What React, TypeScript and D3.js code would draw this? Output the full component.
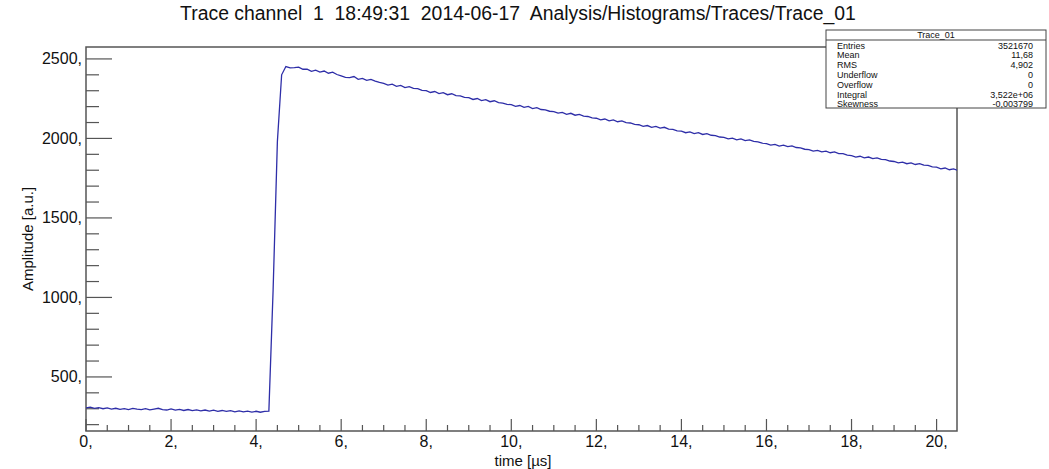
import React from "react";
import * as d3 from "d3";

// ---------- data ----------
const TITLE = "Trace channel  1  18:49:31  2014-06-17  Analysis/Histograms/Traces/Trace_01";
const X_LABEL = "time [\u00b5s]";
const Y_LABEL = "Amplitude [a.u.]";

const X_DOMAIN: [number, number] = [0, 20.48];
const Y_DOMAIN: [number, number] = [160, 2575];

const X_MAJOR = [0, 2, 4, 6, 8, 10, 12, 14, 16, 18, 20];
const X_TICK_LABELS = ["0,", "2,", "4,", "6,", "8,", "10,", "12,", "14,", "16,", "18,", "20,"];
const Y_MAJOR = [500, 1000, 1500, 2000, 2500];
const Y_TICK_LABELS = ["500,", "1000,", "1500,", "2000,", "2500,"];

const SAMPLE_STEP = 0.1; // µs between samples
// amplitude samples, t = 0.0, 0.1, 0.2, ...
const AMPLITUDE = [
  // 0.0 - 0.9
  305, 310, 302, 307, 300, 305, 298, 303, 296, 301,
  // 1.0 - 1.9
  295, 302, 297, 294, 300, 293, 298, 303, 295, 292,
  // 2.0 - 2.9
  299, 291, 296, 289, 295, 288, 293, 287, 292, 285,
  // 3.0 - 3.9
  291, 284, 289, 283, 288, 281, 287, 280, 285, 279,
  // 4.0 - 4.9
  284, 278, 283, 285, 1050, 1980, 2400, 2452, 2444, 2445,
  // 5.0 - 5.9
  2448, 2435, 2436, 2422, 2429, 2417, 2424, 2410, 2417, 2402,
  // 6.0 - 6.9
  2393, 2384, 2382, 2389, 2372, 2378, 2365, 2371, 2360, 2352,
  // 7.0 - 7.9
  2346, 2335, 2341, 2328, 2334, 2320, 2326, 2315, 2313, 2302,
  // 8.0 - 8.9
  2301, 2289, 2295, 2282, 2288, 2275, 2281, 2269, 2267, 2258,
  // 9.0 - 9.9
  2256, 2245, 2251, 2238, 2244, 2231, 2237, 2225, 2222, 2214,
  // 10.0 - 10.9
  2212, 2202, 2207, 2195, 2201, 2188, 2194, 2182, 2180, 2171,
  // 11.0 - 11.9
  2169, 2159, 2164, 2152, 2158, 2146, 2151, 2140, 2138, 2129,
  // 12.0 - 12.9
  2127, 2117, 2122, 2110, 2116, 2105, 2110, 2099, 2097, 2088,
  // 13.0 - 13.9
  2086, 2076, 2081, 2070, 2076, 2065, 2070, 2059, 2057, 2048,
  // 14.0 - 14.9
  2046, 2036, 2041, 2030, 2036, 2025, 2030, 2020, 2018, 2009,
  // 15.0 - 15.9
  2006, 1997, 2002, 1991, 1997, 1986, 1991, 1981, 1979, 1970,
  // 16.0 - 16.9
  1967, 1958, 1963, 1952, 1958, 1948, 1953, 1943, 1941, 1932,
  // 17.0 - 17.9
  1929, 1920, 1925, 1915, 1920, 1910, 1915, 1905, 1904, 1895,
  // 18.0 - 18.9
  1892, 1883, 1888, 1878, 1883, 1873, 1878, 1868, 1867, 1858,
  // 19.0 - 19.9
  1855, 1846, 1851, 1841, 1846, 1836, 1841, 1832, 1830, 1821,
  // 20.0 - 20.5
  1819, 1809, 1814, 1803, 1808, 1799,
];

const STATS_TITLE = "Trace_01";
const STATS_NAMES = ["Entries", "Mean", "RMS", "Underflow", "Overflow", "Integral", "Skewness"];
const STATS_VALUES = ["3521670", "11,68", "4,902", "0", "0", "3,522e+06", "-0,003799"];

// ---------- layout ----------
const W = 1049;
const H = 469;
const M = { left: 86, right: 957, top: 47, bottom: 431 };
const FONT = "'Liberation Sans', Arial, Helvetica, sans-serif";
const AXIS_COLOR = "#555";
const LINE_COLOR = "#2e2ea8";

export default function App() {
  const x = d3.scaleLinear().domain(X_DOMAIN).range([M.left, M.right]);
  const y = d3.scaleLinear().domain(Y_DOMAIN).range([M.bottom, M.top]);

  const points = AMPLITUDE.map((v, i) => [i * SAMPLE_STEP, v] as [number, number]);
  const line = d3
    .line<[number, number]>()
    .x((d) => x(d[0]))
    .y((d) => y(d[1]));

  const xMinor = d3.range(0, X_DOMAIN[1], 0.5).filter((v) => v % 2 !== 0);
  const yMinor = d3.range(200, Y_DOMAIN[1], 100).filter((v) => v % 500 !== 0);

  const box = { x0: 826, x1: 1046, y0: 30, yh: 40, y1: 108 };

  return (
    <svg
      width={W}
      height={H}
      style={{ position: "absolute", left: 0, top: 0, background: "#fff" }}
      fontFamily={FONT}
    >
      <defs>
        <clipPath id="plotclip">
          <rect x={M.left} y={M.top} width={M.right - M.left} height={M.bottom - M.top} />
        </clipPath>
      </defs>

      {/* title */}
      <text x={518} y={20} fontSize={19.4} textAnchor="middle" fill="#111" style={{ whiteSpace: "pre" }}>
        {TITLE}
      </text>

      {/* frame */}
      <rect
        x={M.left}
        y={M.top}
        width={M.right - M.left}
        height={M.bottom - M.top}
        fill="none"
        stroke={AXIS_COLOR}
        strokeWidth={1.5}
      />

      {/* x ticks */}
      {X_MAJOR.map((v) => (
        <line key={"xM" + v} x1={x(v)} x2={x(v)} y1={M.bottom} y2={M.bottom - 12} stroke={AXIS_COLOR} strokeWidth={1.2} />
      ))}
      {xMinor.map((v) => (
        <line key={"xm" + v} x1={x(v)} x2={x(v)} y1={M.bottom} y2={M.bottom - 6} stroke={AXIS_COLOR} strokeWidth={1.2} />
      ))}
      {X_MAJOR.map((v, i) => (
        <text key={"xl" + v} x={x(v)} y={447} fontSize={16} textAnchor="middle" fill="#111">
          {X_TICK_LABELS[i]}
        </text>
      ))}
      <text x={523} y={466} fontSize={15} textAnchor="middle" fill="#111">
        {X_LABEL}
      </text>

      {/* y ticks */}
      {Y_MAJOR.map((v) => (
        <line key={"yM" + v} x1={M.left} x2={M.left + 26} y1={y(v)} y2={y(v)} stroke={AXIS_COLOR} strokeWidth={1.2} />
      ))}
      {yMinor.map((v) => (
        <line key={"ym" + v} x1={M.left} x2={M.left + 13} y1={y(v)} y2={y(v)} stroke={AXIS_COLOR} strokeWidth={1.2} />
      ))}
      {Y_MAJOR.map((v, i) => (
        <text key={"yl" + v} x={82} y={y(v)} fontSize={16} textAnchor="end" dominantBaseline="central" fill="#111">
          {Y_TICK_LABELS[i]}
        </text>
      ))}
      <text
        transform={`translate(27,${(M.top + M.bottom) / 2}) rotate(-90)`}
        fontSize={15}
        textAnchor="middle"
        dominantBaseline="central"
        fill="#111"
      >
        {Y_LABEL}
      </text>

      {/* trace */}
      <path d={line(points) || ""} fill="none" stroke={LINE_COLOR} strokeWidth={1.3} clipPath="url(#plotclip)" />

      {/* stats box */}
      <rect x={box.x0} y={box.y0} width={box.x1 - box.x0} height={box.y1 - box.y0} fill="#fff" stroke="#444" strokeWidth={1} />
      <line x1={box.x0} x2={box.x1} y1={box.yh} y2={box.yh} stroke="#444" strokeWidth={1} />
      <text x={(box.x0 + box.x1) / 2} y={box.y0 + 5} fontSize={9} textAnchor="middle" dominantBaseline="central" fill="#111">
        {STATS_TITLE}
      </text>
      {STATS_NAMES.map((n, i) => (
        <g key={n}>
          <text x={837} y={45.5 + i * 9.8} fontSize={9} dominantBaseline="central" fill="#111">
            {n}
          </text>
          <text x={1033} y={45.5 + i * 9.8} fontSize={9} textAnchor="end" dominantBaseline="central" fill="#111">
            {STATS_VALUES[i]}
          </text>
        </g>
      ))}
    </svg>
  );
}
